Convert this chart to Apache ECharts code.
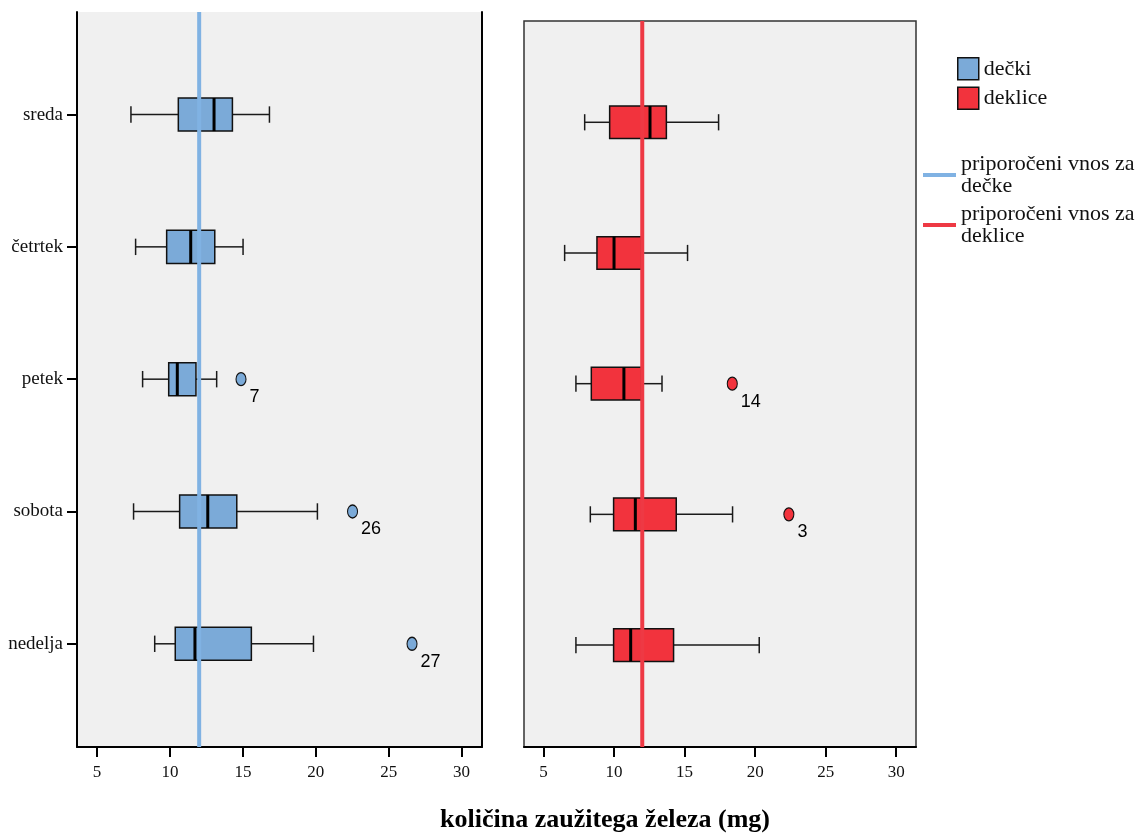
<!DOCTYPE html>
<html>
<head>
<meta charset="utf-8">
<script src="https://cdn.jsdelivr.net/npm/echarts@6/dist/echarts.min.js"></script>
<style>
  html, body { margin: 0; padding: 0; background: #ffffff; }
  #chart { width: 1146px; height: 833px; }
</style>
</head>
<body>
<div id="chart"></div>
<script>
// Days of the week (category rows, top to bottom)
const days = ['sreda', 'četrtek', 'petek', 'sobota', 'nedelja'];

// Box statistics per day: [min whisker, Q1, median, Q3, max whisker] in mg
const boysStats = [
  [7.32, 10.57, 13.02, 14.28, 16.82],
  [7.64, 9.77, 11.42, 13.07, 15.01],
  [8.12, 9.91, 10.50, 11.78, 13.20],
  [7.50, 10.66, 12.59, 14.58, 20.11],
  [8.95, 10.36, 11.71, 15.58, 19.84]
];
const girlsStats = [
  [7.92, 9.69, 12.55, 13.71, 17.41],
  [6.50, 8.79, 10.00, 11.95, 15.21],
  [7.30, 8.39, 10.70, 11.95, 13.40],
  [8.32, 9.97, 11.51, 14.41, 18.40],
  [7.30, 9.97, 11.18, 14.22, 20.29]
];

// Outliers: [value, day index, case number]
const boysOutliers = [[14.87, 2, '7'], [22.52, 3, '26'], [26.60, 4, '27']];
const girlsOutliers = [[18.38, 2, '14'], [22.39, 3, '3']];

// Recommended daily intake (mg)
const recommendedBoys = 12;
const recommendedGirls = 12;

// Axis ticks
const xTicks = [5, 10, 15, 20, 25, 30];
const dayTicks = [0, 1, 2, 3, 4];

const labels = {
  boys: 'dečki',
  girls: 'deklice',
  refBoys: 'priporočeni vnos za dečke',
  refGirls: 'priporočeni vnos za deklice',
  xTitle: 'količina zaužitega železa (mg)'
};

const SERIF = '"Liberation Serif", "Times New Roman", serif';
const NARROW = '"Liberation Sans Narrow", "Arial Narrow", "Liberation Sans", sans-serif';
const BLUE = '#7BAAD8';
const RED = '#F2333D';
const BLUE_LINE = '#80B2E3';
const RED_LINE = '#EE3944';

const X_MIN = 3.62, X_MAX = 31.4;
const Y_MIN = -0.775, Y_MAX = 4.78;

function toBoxData(stats) {
  return stats.map((s, i) => [i].concat(s));
}

function renderBox(params, api) {
  const y = api.value(0);
  const vals = [1, 2, 3, 4, 5].map(k => api.coord([api.value(k), y]));
  const cy = vals[0][1];
  const unit = api.size([0, 1])[1];
  const hb = unit * 0.125;
  const hc = unit * 0.062;
  const color = api.visual('color');
  const whisker = { stroke: '#1a1a1a', lineWidth: 1.5 };
  return {
    type: 'group',
    children: [
      { type: 'line', shape: { x1: vals[0][0], y1: cy, x2: vals[1][0], y2: cy }, style: whisker },
      { type: 'line', shape: { x1: vals[3][0], y1: cy, x2: vals[4][0], y2: cy }, style: whisker },
      { type: 'line', shape: { x1: vals[0][0], y1: cy - hc, x2: vals[0][0], y2: cy + hc }, style: whisker },
      { type: 'line', shape: { x1: vals[4][0], y1: cy - hc, x2: vals[4][0], y2: cy + hc }, style: whisker },
      { type: 'rect', shape: { x: vals[1][0], y: cy - hb, width: vals[3][0] - vals[1][0], height: hb * 2 },
        style: { fill: color, stroke: '#111', lineWidth: 1.5 } },
      { type: 'line', shape: { x1: vals[2][0], y1: cy - hb, x2: vals[2][0], y2: cy + hb },
        style: { stroke: '#000', lineWidth: 3 } }
    ]
  };
}

function xAxisFor(gridIndex) {
  return {
    type: 'value', gridIndex, min: X_MIN, max: X_MAX,
    axisLine: { show: true, onZero: false, lineStyle: { color: '#000', width: 2 } },
    axisTick: { show: true, length: 10, customValues: xTicks, lineStyle: { color: '#000', width: 2 } },
    axisLabel: { customValues: xTicks, margin: 17, color: '#111', fontFamily: SERIF, fontSize: 17 },
    splitLine: { show: false }
  };
}

function outlierSeries(name, color, xi, yi, data) {
  return {
    name, type: 'scatter', xAxisIndex: xi, yAxisIndex: yi,
    symbol: 'circle', symbolSize: [10, 13],
    itemStyle: { color, opacity: 1, borderColor: '#111', borderWidth: 1.2 },
    label: {
      show: true, position: 'right', distance: 3, offset: [0, 18],
      formatter: p => p.data[2], fontFamily: NARROW, fontSize: 18, color: '#000'
    },
    data, z: 4
  };
}

const option = {
  backgroundColor: '#ffffff',
  animation: false,
  grid: [
    { left: 77, right: 664, top: 12, bottom: 86, show: true, borderWidth: 0, backgroundColor: '#f0f0f0' },
    { left: 524, right: 230, top: 21, bottom: 86, show: true, borderWidth: 1.5, borderColor: '#333', backgroundColor: '#f0f0f0' }
  ],
  xAxis: [xAxisFor(0), xAxisFor(1)],
  yAxis: [
    {
      type: 'value', gridIndex: 0, min: Y_MIN, max: Y_MAX, inverse: true,
      axisLine: { show: true, onZero: false, lineStyle: { color: '#000', width: 2 } },
      axisTick: { show: true, length: 10, customValues: dayTicks, lineStyle: { color: '#000', width: 2 } },
      axisLabel: {
        customValues: dayTicks, margin: 14, color: '#111', fontFamily: SERIF, fontSize: 19,
        formatter: v => days[Math.round(v)]
      },
      splitLine: { show: false }
    },
    {
      type: 'value', gridIndex: 0, min: Y_MIN, max: Y_MAX, inverse: true, position: 'right',
      axisLine: { show: true, onZero: false, lineStyle: { color: '#000', width: 2 } },
      axisTick: { show: false }, axisLabel: { show: false }, splitLine: { show: false }
    },
    {
      type: 'value', gridIndex: 1, min: Y_MIN, max: Y_MAX, inverse: true,
      axisLine: { show: false }, axisTick: { show: false }, axisLabel: { show: false }, splitLine: { show: false }
    }
  ],
  legend: [
    {
      orient: 'vertical', left: 957, top: 57, padding: 0, itemWidth: 21, itemHeight: 22, itemGap: 6,
      icon: 'rect', data: [labels.boys, labels.girls],
      itemStyle: { borderColor: '#111', borderWidth: 1.5 },
      textStyle: { fontFamily: SERIF, fontSize: 22, color: '#111' }
    },
    {
      orient: 'vertical', left: 923, top: 153, padding: 0, itemWidth: 33, itemHeight: 4, itemGap: 6,
      icon: 'rect', data: [labels.refBoys, labels.refGirls],
      formatter: n => n.replace(' za ', ' za\n'),
      textStyle: { fontFamily: SERIF, fontSize: 22, lineHeight: 22, color: '#111' }
    }
  ],
  graphic: [
    {
      type: 'text', x: 605, y: 820,
      style: {
        text: labels.xTitle, textAlign: 'center', textVerticalAlign: 'middle',
        font: 'bold 26px ' + SERIF, fill: '#000'
      }
    }
  ],
  series: [
    {
      name: labels.boys, type: 'custom', xAxisIndex: 0, yAxisIndex: 0,
      itemStyle: { color: BLUE }, renderItem: renderBox,
      encode: { x: [1, 2, 3, 4, 5], y: 0 }, data: toBoxData(boysStats), z: 2
    },
    {
      name: labels.girls, type: 'custom', xAxisIndex: 1, yAxisIndex: 2,
      itemStyle: { color: RED }, renderItem: renderBox,
      encode: { x: [1, 2, 3, 4, 5], y: 0 }, data: toBoxData(girlsStats), z: 2
    },
    outlierSeries('dečki izstopajoči', BLUE, 0, 0, boysOutliers),
    outlierSeries('deklice izstopajoče', RED, 1, 2, girlsOutliers),
    {
      name: labels.refBoys, type: 'line', xAxisIndex: 0, yAxisIndex: 0,
      symbol: 'none', color: BLUE_LINE, lineStyle: { color: BLUE_LINE, width: 4 },
      data: [[recommendedBoys, Y_MIN], [recommendedBoys, Y_MAX]], z: 3
    },
    {
      name: labels.refGirls, type: 'line', xAxisIndex: 1, yAxisIndex: 2,
      symbol: 'none', color: RED_LINE, lineStyle: { color: RED_LINE, width: 4 },
      data: [[recommendedGirls, Y_MIN], [recommendedGirls, Y_MAX]], z: 3
    }
  ]
};

const chart = echarts.init(document.getElementById('chart'), null, { renderer: 'canvas' });
chart.setOption(option);
</script>
</body>
</html>
